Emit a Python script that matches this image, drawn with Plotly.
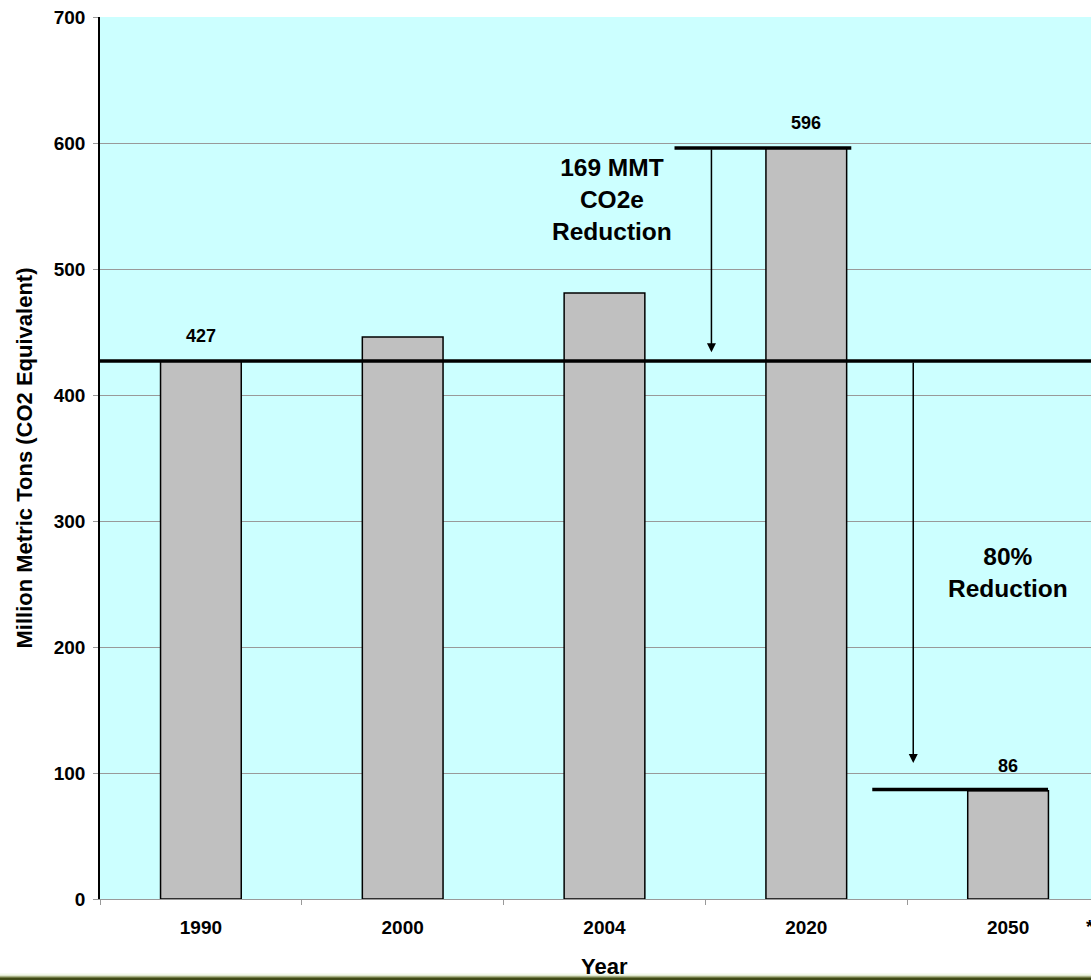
import plotly.graph_objects as go

# ---- data ----
years = ["1990", "2000", "2004", "2020", "2050"]
emissions = [427, 446, 481, 596, 86]
value_labels = ["427", None, None, "596", "86"]
baseline_1990 = 427
level_2020 = 596
target_2050 = 87
y_ticks = [0, 100, 200, 300, 400, 500, 600, 700]
note_2020 = "169 MMT<br>CO2e<br>Reduction"
note_2050 = "80%<br>Reduction"

W, H = 1091, 980
ML, MR, MT, MB = 100, 0, 17, 81
plot_h = H - MT - MB

FONT = "Liberation Sans, Arial, sans-serif"

fig = go.Figure()
fig.add_trace(go.Bar(
    x=years, y=emissions, width=0.4,
    marker=dict(color="#C0C0C0", line=dict(color="black", width=1.5)),
    showlegend=False, hoverinfo="skip",
))

shapes = []
shapes.append(dict(type="line", xref="paper", yref="y", x0=0, x1=1,
                   y0=baseline_1990, y1=baseline_1990,
                   line=dict(color="black", width=3.5), layer="above"))
shapes.append(dict(type="line", xref="x", yref="y", x0=3 - 0.653, x1=3 + 0.223,
                   y0=level_2020, y1=level_2020,
                   line=dict(color="black", width=3.5), layer="above"))
shapes.append(dict(type="line", xref="x", yref="y", x0=4 - 0.673, x1=4 + 0.198,
                   y0=target_2050, y1=target_2050,
                   line=dict(color="black", width=3.5), layer="above"))


def py(p):
    return (H - MB - p) / plot_h


strip = [(973.5, 975, "#f2f8ea"), (975, 976, "#dfe6cf"),
         (976, 977, "#aab38a"), (977, 978, "#6f7a44"),
         (978, 981, "#3f4a16")]
for a, b, c in strip:
    shapes.append(dict(type="rect", xref="paper", yref="paper",
                       x0=-0.2, x1=1.1, y0=py(b), y1=py(a),
                       fillcolor=c, line=dict(width=0), layer="above"))

annotations = []
for i, (v, lab) in enumerate(zip(emissions, value_labels)):
    if lab:
        annotations.append(dict(x=i, y=v, xref="x", yref="y", text=f"<b>{lab}</b>",
                                showarrow=False, yanchor="bottom", yshift=13,
                                font=dict(family=FONT, size=18, color="black")))

annotations.append(dict(x=2.53, y=434, ax=2.53, ay=level_2020, xref="x", yref="y",
                        axref="x", ayref="y", showarrow=True, arrowhead=2,
                        arrowsize=1.2, arrowwidth=1.5, arrowcolor="black", text=""))
annotations.append(dict(x=3.53, y=108, ax=3.53, ay=baseline_1990, xref="x", yref="y",
                        axref="x", ayref="y", showarrow=True, arrowhead=2,
                        arrowsize=1.2, arrowwidth=1.5, arrowcolor="black", text=""))

annotations.append(dict(x=2.035, y=555, xref="x", yref="y", text=f"<b>{note_2020}</b>",
                        showarrow=False, align="center",
                        font=dict(family=FONT, size=24.5, color="black")))
annotations.append(dict(x=4.0, y=259, xref="x", yref="y", text=f"<b>{note_2050}</b>",
                        showarrow=False, align="center",
                        font=dict(family=FONT, size=24.5, color="black")))

annotations.append(dict(xref="paper", yref="paper", x=(1084 - ML) / (W - ML), y=py(927),
                        text="<b>*</b>", showarrow=False, xanchor="left", yanchor="middle",
                        font=dict(family=FONT, size=19, color="black")))
annotations.append(dict(xref="paper", yref="paper", x=(604 - ML) / (W - ML), y=py(966),
                        text="<b>Year</b>", showarrow=False, xanchor="center",
                        yanchor="middle",
                        font=dict(family=FONT, size=22, color="black")))

fig.update_layout(
    width=W, height=H,
    margin=dict(l=ML, r=MR, t=MT, b=MB, pad=0),
    paper_bgcolor="white", plot_bgcolor="#CCFFFF",
    font=dict(family=FONT, color="black"),
    shapes=shapes, annotations=annotations,
    xaxis=dict(
        type="category", range=[-0.5, 4.4109], tickson="boundaries",
        ticks="outside", ticklen=5, tickcolor="#999999",
        showline=True, linecolor="#999999", linewidth=1,
        showgrid=False, zeroline=False,
        tickfont=dict(family=FONT, size=19, color="black"),
        tickprefix="<b>", ticksuffix="</b>",
        ticklabelstandoff=11,
    ),
    yaxis=dict(
        range=[0, 700], tickvals=y_ticks,
        ticktext=[f"<b>{v}</b>" for v in y_ticks],
        ticks="outside", ticklen=5, tickcolor="#999999",
        showline=True, linecolor="black", linewidth=1.5,
        showgrid=True, gridcolor="#999999", gridwidth=1,
        zeroline=False,
        tickfont=dict(family=FONT, size=19, color="black"),
        ticklabelstandoff=4,
        title=dict(text="<b>Million Metric Tons (CO2 Equivalent)</b>",
                   font=dict(family=FONT, size=22, color="black"), standoff=15),
    ),
)

fig.write_html(
    "out.html",
    config={"displayModeBar": False},
    post_script="document.body.style.margin='0';document.body.style.overflow='hidden';"
                "document.documentElement.style.overflow='hidden';",
)
